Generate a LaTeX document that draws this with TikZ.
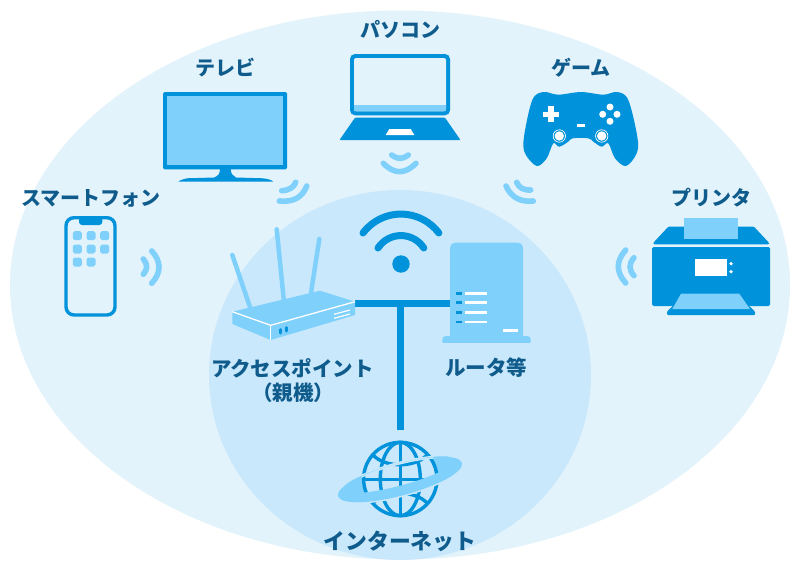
\documentclass[tikz,border=0pt]{standalone}
\usepackage{fontspec}
\newfontfamily\jp{Noto Sans CJK JP}
\definecolor{outerbg}{HTML}{E3F3FB}
\definecolor{innerbg}{HTML}{C9E8FB}
\definecolor{mainblue}{HTML}{0092DA}
\definecolor{lightblue}{HTML}{7FD0FB}
\definecolor{labelblue}{HTML}{0F5C8C}
\newcommand{\qwave}[6]{\draw[wave] (#1,#2) .. controls ({#1+2/3*(#3-#1)},{#2+2/3*(#4-#2)}) and ({#5+2/3*(#3-#5)},{#6+2/3*(#4-#6)}) .. (#5,#6);}
\tikzset{
  lbl/.style={font=\jp\bfseries\fontsize{#1}{24pt}\selectfont, text=labelblue, inner sep=0pt, align=center},
  lbl/.default={20pt},
  wave/.style={draw=lightblue, line width=5.6pt, line cap=round},
  link/.style={draw=mainblue, line width=7pt},
  antenna/.style={draw=lightblue, line width=4.5pt, line cap=round},
  globeline/.style={draw=mainblue, line width=3.4pt},
  wl/.style={draw=white, line width=1.3pt}
}
\begin{document}
\begin{tikzpicture}[x=1pt,y=-1pt]
\useasboundingbox (0,0) rectangle (800,570);
\fill[white] (0,0) rectangle (800,570);
% backgrounds
\fill[outerbg] (400,285) ellipse [x radius=390pt, y radius=274.5pt];
\fill[innerbg] (400,375) ellipse [x radius=191pt, y radius=185pt];
% connectors
\coordinate (apeast) at (355,303.3);
\coordinate (routerwest) at (450,303.3);
\coordinate (tee) at (400.5,303.3);
\coordinate (nettop) at (400.5,430);
\draw[link] (apeast) -- (routerwest);
\draw[link] (tee) -- (nettop);
% wifi symbol
\fill[mainblue] (401,264) circle [radius=8.7pt];
\draw[mainblue, line width=7pt, line cap=round] (363,233) arc [start angle=143, end angle=37, radius=47.5pt];
\draw[mainblue, line width=7pt, line cap=round] (378,248) arc [start angle=147, end angle=33, radius=27.3pt];
% waves
\qwave{151.7}{251}{166.3}{267}{151.7}{283.3}
\qwave{143.3}{259}{150}{266.7}{143.3}{274.3}
\qwave{306.7}{186}{300.4}{203}{279.3}{201}
\qwave{295.7}{182.3}{292.7}{190.1}{281.7}{190.7}
\qwave{383.3}{163.3}{399.5}{180}{416}{163.3}
\qwave{391.7}{155}{400}{161.7}{408.3}{155}
\qwave{506}{186}{513.7}{203}{533.3}{201}
\qwave{516.7}{182.3}{519.7}{190.4}{530.7}{190}
\qwave{625.7}{250}{610.9}{266.5}{625.7}{283}
\qwave{634}{257.7}{626}{266.7}{634}{275.7}
% smartphone
\draw[mainblue, line width=3.4pt, rounded corners=8pt] (66,217.7) rectangle (115,315);
\fill[mainblue, rounded corners=3pt] (79,217) -- (102.3,217) -- (102.3,225) -- (79,225) -- cycle;
\foreach \ix/\iy in {77.3/235.7,91/235.7,104.7/235.7,77.3/249,91/249,104.7/249,77.3/262,91/262}
  \fill[lightblue, rounded corners=1.8pt] (\ix-4.5,\iy-4.5) rectangle (\ix+4.5,\iy+4.5);
% TV
\fill[mainblue, rounded corners=1.5pt] (163,92) rectangle (287,169.3);
\fill[lightblue] (167.3,96.3) rectangle (282.7,165);
\fill[mainblue] (220,169) -- (230.7,169) .. controls (231,174) and (233,176) .. (236,177.5) -- (263.3,178.3) .. controls (268,179) and (272,180) .. (273.3,181.7) -- (178.3,181.7) .. controls (180,180) and (184,179) .. (186.7,178.3) -- (214,177.5) .. controls (218,176) and (220,174) .. (220,169) -- cycle;
% laptop
\fill[mainblue, rounded corners=5pt] (350,54) rectangle (450,115.3);
\fill[outerbg, rounded corners=2pt] (354,58) rectangle (446,111.3);
\fill[lightblue] (354,105) rectangle (446,111.3);
\fill[mainblue, rounded corners=1pt] (355,117.7) -- (445,117.7) -- (460.5,140) -- (339.5,140) -- cycle;
\fill[white] (389.3,129) -- (410.7,129) -- (414.3,135) -- (385.7,135) -- cycle;
% game controller
\fill[mainblue] plot[smooth cycle, tension=0.55] coordinates {(543.3,92) (558.3,94.7) (581,92) (603.3,94.7) (617.3,92) (628.3,100) (637.3,136.7) (636.7,153.3) (626,166) (615,158.3) (608.3,143.3) (601.7,146.7) (593.3,141.7) (588.3,138.3) (572.7,138.3) (568.3,141.7) (559.3,146.7) (553.3,143.3) (546.7,158.3) (536.7,166) (525,153.3) (524,136.7) (532.3,100)};
\fill[white] (543,111.7) rectangle (559,117);
\fill[white] (548.3,106.3) rectangle (553.7,122.3);
\fill[white] (577,123.8) rectangle (585,126.8);
\foreach \bx/\by in {610/107,610/121.3,602.7/114.3,617/114.3}
  \fill[white] (\bx,\by) circle [radius=3.5pt];
\foreach \bx in {559.3,601.7}{
  \fill[white] (\bx,136) circle [radius=4.7pt];
  \draw[white, line width=0.7pt] (\bx,136) circle [radius=6.2pt];
}
% printer
\fill[mainblue, rounded corners=1pt] (653.3,244.3) -- (653.3,242.8) -- (668.3,226.7) -- (754,226.7) -- (769,242.8) -- (769,244.3) -- cycle;
\fill[lightblue] (684,218) rectangle (738,239.3);
\fill[mainblue, rounded corners=1.5pt] (652,247) rectangle (770,306);
\fill[white] (695,259.3) rectangle (727.3,276);
\fill[white] (731,263.7) circle [radius=1.8pt];
\fill[white] (731,271.7) circle [radius=1.8pt];
\fill[mainblue, rounded corners=1pt] (676,303) -- (746,303) -- (755,311.5) -- (755,315) -- (667,315) -- (667,311.5) -- cycle;
\fill[lightblue] (681,293.7) -- (739.3,293.7) -- (750,309) -- (672.3,309) -- cycle;
% access point
\draw[antenna] (232.3,255) -- (251,310);
\draw[antenna] (276.7,229.3) -- (284,302);
\draw[antenna] (319.3,239) -- (310.7,295);
\fill[lightblue] (232.3,311.7) -- (320,290.7) -- (355,301.7) -- (355,315) -- (270.7,340) -- (232.3,324) -- cycle;
\draw[wl] (232.3,311.7) -- (270.7,325.3) -- (355,301.7);
\draw[wl] (270.7,325.3) -- (270.7,340);
\draw[white, line width=1.2pt] (334,314.3) -- (350,310);
\draw[white, line width=1.2pt] (334,318.3) -- (350,314);
\draw[mainblue, line width=3pt, line cap=round] (280,329.5) -- (280,333);
\draw[mainblue, line width=3pt, line cap=round] (286.7,327.5) -- (286.7,331);
% router
\fill[lightblue, rounded corners=5pt] (450,345) -- (450,242.7) -- (523,242.7) -- (523,345) -- cycle;
\fill[lightblue, rounded corners=3.5pt] (442.3,345) -- (442.3,336) -- (530.7,336) -- (530.7,345) -- cycle;
\fill[innerbg] (440,343) rectangle (533,347);
\foreach \ry in {293.3,302.7,312.3,322}{
  \draw[mainblue, line width=2.5pt] (456,\ry) -- (461.7,\ry);
  \draw[white, line width=2.5pt] (465.3,\ry) -- (486.7,\ry);
}
\draw[white, line width=2.5pt] (503.3,330.3) -- (518,330.3);
% globe: solid ring behind, sphere over it, front band of the ring on top
\fill[lightblue, rotate around={15:(400,479.5)}] (400,479.5) ellipse [x radius=64pt, y radius=16pt];
\fill[innerbg] (400.3,479) circle [radius=38pt];
\draw[globeline] (400.3,479) circle [radius=36.7pt];
\draw[globeline] (400.3,479) ellipse [x radius=20pt, y radius=36.7pt];
\draw[globeline] (400.3,442.3) -- (400.3,515.7);
\draw[globeline] (363.6,479.3) -- (437,479.3);
\draw[globeline] (373,455) .. controls (385,468) and (415,468) .. (427,455);
\draw[globeline] (373,503) .. controls (385,490) and (415,490) .. (427,503);
\begin{scope}
  \clip (400.3,479) circle [radius=39pt];
  \draw[innerbg, line width=3pt, rotate around={15:(400,479.5)}] (400,479.5) ellipse [x radius=64pt, y radius=16pt];
\end{scope}
\path[even odd rule, fill=lightblue, rotate around={15:(400,479.5)}]
  (400,479.5) ellipse [x radius=64pt, y radius=16pt]
  (400,474.5) ellipse [x radius=58pt, y radius=11pt];
% labels
\node[lbl] (lpc) at (400.5,29) {パソコン};
\node[lbl] (ltv) at (225,68) {テレビ};
\node[lbl] (lgame) at (581,68) {ゲーム};
\node[lbl] (lphone) at (91,198) {スマートフォン};
\node[lbl] (lprint) at (711,198) {プリンタ};
\node[lbl=20.5pt] (lap) at (292.5,368) {アクセスポイント};
\node[lbl=20.5pt] (lapb) at (293,393) {（親機）};
\node[lbl=20.5pt] (lrouter) at (486,368) {ルータ等};
\node[lbl=21.8pt] (lnet) at (400,541) {インターネット};
\end{tikzpicture}
\end{document}
